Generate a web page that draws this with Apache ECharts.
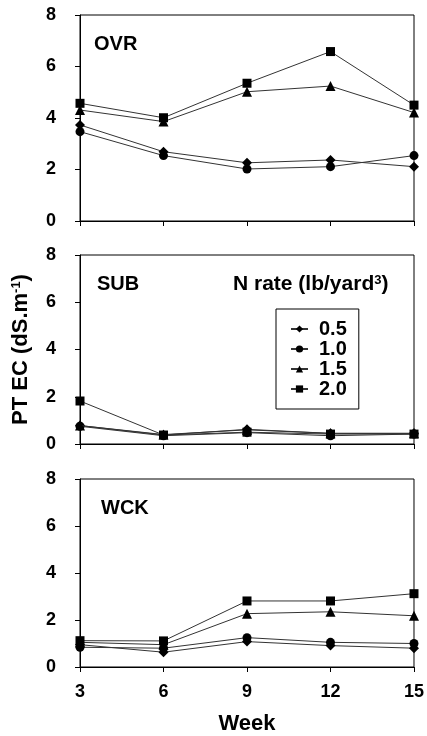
<!DOCTYPE html>
<html>
<head>
<meta charset="utf-8">
<script src="https://cdn.jsdelivr.net/npm/echarts@6/dist/echarts.min.js"></script>
<style>
  html, body { margin: 0; padding: 0; background: #fff; }
  #chart { width: 427px; height: 736px; }
</style>
</head>
<body>
<div id="chart"></div>
<script>
const weeks = [3, 6, 9, 12, 15];
const rates = ["0.5", "1.0", "1.5", "2.0"];
const symbols = ["diamond", "circle", "triangle", "rect"];
const sizes = [10, 9, 10, 9];
const panels = ["OVR", "SUB", "WCK"];

// values by panel, one list per N rate
const ovr05 = [3.73, 2.69, 2.26, 2.37, 2.11];
const ovr10 = [3.47, 2.54, 2.02, 2.11, 2.54];
const ovr15 = [4.31, 3.86, 5.02, 5.24, 4.21];
const ovr20 = [4.57, 4.01, 5.35, 6.58, 4.5];

const sub05 = [0.78, 0.38, 0.62, 0.45, 0.45];
const sub10 = [0.75, 0.35, 0.48, 0.35, 0.42];
const sub15 = [0.78, 0.4, 0.6, 0.45, 0.45];
const sub20 = [1.82, 0.38, 0.5, 0.42, 0.42];

const wck05 = [0.95, 0.63, 1.08, 0.91, 0.8];
const wck10 = [0.84, 0.8, 1.25, 1.05, 1.0];
const wck15 = [1.05, 0.95, 2.27, 2.35, 2.18];
const wck20 = [1.12, 1.11, 2.81, 2.81, 3.12];

const panelData = [
  [ovr05, ovr10, ovr15, ovr20],
  [sub05, sub10, sub15, sub20],
  [wck05, wck10, wck15, wck20],
];

const font = "Arial, 'Liberation Sans', sans-serif";
const grids = [
  { left: 80, width: 334, top: 15, height: 206 },
  { left: 80, width: 334, top: 255, height: 189 },
  { left: 80, width: 334, top: 479, height: 190 },
];

const xAxes = grids.map(function (g, i) {
  const last = i === grids.length - 1;
  return {
    type: "value",
    gridIndex: i,
    min: 3,
    max: 15,
    interval: 3,
    name: last ? "Week" : "",
    nameLocation: "middle",
    nameGap: 46,
    nameTextStyle: { fontFamily: font, fontWeight: "bold", fontSize: 22, color: "#000" },
    axisLine: { lineStyle: { color: "#000", width: 1 } },
    axisTick: { show: true, length: 5, inside: false, lineStyle: { color: "#000" } },
    axisLabel: {
      show: last,
      margin: 16,
      fontFamily: font,
      fontWeight: "bold",
      fontSize: 18,
      color: "#000",
    },
    splitLine: { show: false },
  };
});

const yAxes = grids.map(function (g, i) {
  return {
    type: "value",
    gridIndex: i,
    min: 0,
    max: 8,
    interval: 2,
    name: i === 1 ? "PT EC (dS.m{sup|-1})" : "",
    nameLocation: "middle",
    nameRotate: 90,
    nameGap: 48,
    nameTextStyle: {
      fontFamily: font,
      fontWeight: "bold",
      fontSize: 22,
      color: "#000",
      rich: {
        sup: { fontFamily: font, fontWeight: "bold", fontSize: 13, verticalAlign: "top", color: "#000" },
      },
    },
    axisLine: { show: true, lineStyle: { color: "#000", width: 1 } },
    axisTick: { show: true, length: 5, lineStyle: { color: "#000" } },
    axisLabel: {
      margin: 24,
      fontFamily: font,
      fontWeight: "bold",
      fontSize: 18,
      color: "#000",
    },
    splitLine: { show: false },
  };
});

const series = [];
panelData.forEach(function (sets, p) {
  sets.forEach(function (vals, r) {
    series.push({
      name: rates[r],
      type: "line",
      xAxisIndex: p,
      yAxisIndex: p,
      data: weeks.map(function (w, k) { return [w, vals[k]]; }),
      symbol: symbols[r],
      symbolSize: sizes[r],
      showAllSymbol: true,
      itemStyle: { color: "#000" },
      lineStyle: { color: "#333", width: 1 },
      z: 3 + r,
    });
  });
});

const labelTops = [34, 274, 498];
const labelLefts = [94, 97, 101];
const graphic = panels.map(function (name, i) {
  return {
    type: "text",
    left: labelLefts[i],
    top: labelTops[i],
    style: { text: name, fontFamily: font, fontWeight: "bold", fontSize: 20, fill: "#000" },
  };
});
graphic.push({
  type: "text",
  left: 233,
  top: 274,
  style: {
    text: "N rate (lb/yard{sup|3})",
    fontFamily: font,
    fontWeight: "bold",
    fontSize: 21,
    fill: "#000",
    rich: {
      sup: { fontFamily: font, fontWeight: "bold", fontSize: 13, verticalAlign: "top", fill: "#000" },
    },
  },
});

const chart = echarts.init(document.getElementById("chart"));
chart.setOption({
  animation: false,
  backgroundColor: "#fff",
  grid: grids.map(function (g) {
    return Object.assign({ show: true, borderColor: "#000", borderWidth: 1, backgroundColor: "transparent" }, g);
  }),
  xAxis: xAxes,
  yAxis: yAxes,
  legend: {
    data: rates,
    orient: "vertical",
    left: 276,
    top: 309,
    padding: [10, 12, 10, 14],
    itemGap: 0,
    itemWidth: 17,
    itemHeight: 9,
    borderColor: "#000",
    borderWidth: 1,
    selectedMode: false,
    textStyle: { fontFamily: font, fontWeight: "bold", fontSize: 20, color: "#000", padding: [0, 0, 0, 6] },
  },
  graphic: graphic,
  series: series,
});
</script>
</body>
</html>
